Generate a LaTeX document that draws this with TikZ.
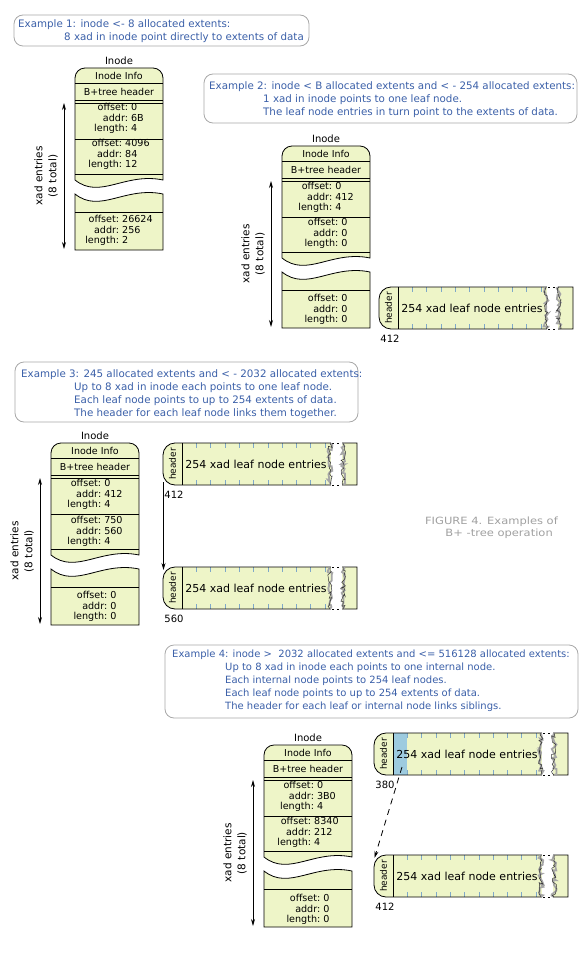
\documentclass[tikz,border=0pt]{standalone}
\usepackage{fontspec}
\usepackage{graphicx}
\setmainfont{DejaVu Sans}
\usetikzlibrary{arrows.meta, decorations.pathmorphing}

\definecolor{nodefill}{HTML}{EEF5C8}
\definecolor{notetext}{HTML}{3A5FA8}
\definecolor{noteframe}{HTML}{A8A8A8}
\definecolor{tickblue}{HTML}{7FA8C8}
\definecolor{cellblue}{HTML}{9DCBDF}
\definecolor{captiongray}{HTML}{A0A0A0}

\tikzset{
  outline/.style={draw=black, line width=0.8pt},
  note/.style={draw=noteframe, line width=0.8pt, rounded corners=9pt},
  notetxt/.style={text=notetext, font=\fontsize{10.3}{13}\selectfont, align=left, anchor=north west, inner sep=0pt},
  smalltxt/.style={font=\fontsize{9.6}{10.2}\selectfont, inner sep=0pt},
  titletxt/.style={font=\fontsize{9.5}{11}\selectfont, inner sep=0pt},
  xadarrow/.style={{Stealth[length=7pt,width=4pt]}-{Stealth[length=7pt,width=4pt]}, line width=0.8pt},
  ptrarrow/.style={-{Stealth[length=7pt,width=4pt]}, line width=0.8pt},
  jagshade/.style={draw=black!35, line width=1.8pt, decorate, decoration={random steps, segment length=2.5pt, amplitude=2.5pt}},
  jag/.style={draw=black!80, line width=0.5pt, decorate, decoration={random steps, segment length=2.5pt, amplitude=2.5pt}},
}

% one xad entry: name, centre, offset, addr, length
\newcommand{\xad}[5]{%
  \node[smalltxt] (#1) at (#2) {\begin{tabular}{@{}r@{\ }l@{}}offset: & #3\\ addr: & #4\\ length: & #5\end{tabular}};}

% inode with broken entry list: name, left, top
\newcommand{\inodebox}[3]{%
\begin{scope}[shift={(#2,#3)}]
  \path[outline, fill=nodefill] (0,112) -- (0,10) .. controls (0,4.5) and (4.5,0) .. (10,0) -- (78,0)
    .. controls (83.5,0) and (88,4.5) .. (88,10) -- (88,112) .. controls (50,104) and (25,132) .. (0,112) -- cycle;
  \path[outline, fill=nodefill] (0,126) .. controls (25,146) and (50,118) .. (88,126) -- (88,182) -- (0,182) -- cycle;
  \draw[line width=0.8pt] (0,15) -- (88,15) (0,32) -- (88,32) (0,35) -- (88,35)
    (0,71) -- (88,71) (0,106) -- (88,106) (0,144) -- (88,144);
  \node[font=\fontsize{10}{12}\selectfont, inner sep=0pt] (#1-label) at (44,-7) {Inode};
  \node[titletxt] (#1-info) at (44,7.5) {Inode Info};
  \node[titletxt] (#1-head) at (44,23.5) {B+tree header};
  \coordinate (#1-atop) at (-11,35);
  \coordinate (#1-abot) at (-11,181);
  \node[rotate=90, align=center, font=\fontsize{10.5}{14}\selectfont, inner sep=0pt] (#1-count) at (-29,108) {xad entries\\(8 total)};
\end{scope}}

% leaf node: [first cell colour], name, left, top, address
\newcommand{\leafnode}[5][nodefill]{%
\begin{scope}[shift={(#3,#4)}]
  \fill[nodefill] (12,0) -- (194,0) -- (194,42) -- (12,42) .. controls (5.4,42) and (0,36.6) .. (0,30)
    -- (0,12) .. controls (0,5.4) and (5.4,0) .. (12,0) -- cycle;
  \fill[#1] (19,0) rectangle (33.3,42);
  \foreach \k in {1,...,10}
    \draw[tickblue, line width=0.6pt] (19+14.3*\k,0) -- ++(0,5) (19+14.3*\k,42) -- ++(0,-5);
  \draw[outline] (12,0) -- (194,0) -- (194,42) -- (12,42) .. controls (5.4,42) and (0,36.6) .. (0,30)
    -- (0,12) .. controls (0,5.4) and (5.4,0) .. (12,0) -- cycle;
  \draw[line width=0.8pt] (19,0) -- (19,42);
  % break in the entry list
  \fill[white] (168,-1) rectangle (179,43);
  \draw[line width=0.8pt, dash pattern=on 2pt off 3pt] (169,0) -- (179,0) (169,42) -- (179,42);
  \draw[jagshade] (167,0) -- (167,42);
  \draw[jag] (167,0) -- (167,42);
  \draw[jagshade] (180,0) -- (180,42);
  \draw[jag] (180,0) -- (180,42);
  \node[rotate=90, font=\fontsize{9}{10}\selectfont, inner sep=0pt] (#2-head) at (9.5,21) {header};
  \node[font=\fontsize{11}{12}\selectfont, inner sep=0pt] (#2-entries) at (93,21) {254 xad leaf node entries};
  \node[font=\fontsize{10}{12}\selectfont, inner sep=0pt] (#2-addr) at (11,52) {#5};
  \coordinate (#2-in) at (0.5,3);
  \coordinate (#2-out) at (0.5,39);
  \coordinate (#2-link) at (28,34);
\end{scope}}

\begin{document}
\begin{tikzpicture}[x=1pt, y=-1pt]
\useasboundingbox (0,0) rectangle (579,960);

% example 1
\draw[note] (14,15) rectangle (309,46);
\node[notetxt] (ex1) at (18,19) {Example 1: inode <- 8 allocated extents:\\
  \hspace*{46pt}8 xad in inode point directly to extents of data};
\inodebox{i1}{75}{68}
\xad{i1-e1}{119,119}{0}{6B}{4}
\xad{i1-e2}{119,155}{4096}{84}{12}
\xad{i1-e8}{119,231}{26624}{256}{2}
\draw[xadarrow] (i1-atop) -- (i1-abot);

% example 2
\draw[note] (204,74) rectangle (577,123);
\node[notetxt] (ex2) at (209,81) {Example 2: inode < B allocated extents and < - 254 allocated extents:\\
  \hspace*{54pt}1 xad in inode points to one leaf node.\\
  \hspace*{54pt}The leaf node entries in turn point to the extents of data.};
\inodebox{i2}{282}{146}
\xad{i2-e1}{326,198}{0}{412}{4}
\xad{i2-e2}{326,234}{0}{0}{0}
\xad{i2-e8}{326,310}{0}{0}{0}
\draw[xadarrow] (i2-atop) -- (i2-abot);
\leafnode{l2}{379}{287}{412}

% example 3
\draw[note] (15,362) rectangle (358,422);
\node[notetxt] (ex3) at (21,369) {Example 3: 245 allocated extents and < - 2032 allocated extents:\\
  \hspace*{53pt}Up to 8 xad in inode each points to one leaf node.\\
  \hspace*{53pt}Each leaf node points to up to 254 extents of data.\\
  \hspace*{53pt}The header for each leaf node links them together.};
\inodebox{i3}{51}{443}
\xad{i3-e1}{95,495}{0}{412}{4}
\xad{i3-e2}{95,532}{750}{560}{4}
\xad{i3-e8}{95,607}{0}{0}{0}
\draw[xadarrow] (i3-atop) -- (i3-abot);
\leafnode{l3a}{163}{443}{412}
\leafnode{l3b}{163}{567}{560}
\draw[ptrarrow] (l3a-out) -- (l3b-in);

\node[font=\fontsize{10}{12}\selectfont, text=captiongray, align=right, anchor=north east, inner sep=0pt] (caption) at (558,517)
  {\scalebox{1.15}[1]{FIGURE 4. Examples of}\\\scalebox{1.15}[1]{B+ -tree operation}\hspace*{5pt}};

% example 4
\draw[note] (165,645) rectangle (578,718);
\node[notetxt, font=\fontsize{10}{13}\selectfont] (ex4) at (172,650) {Example 4: inode >\ \ 2032 allocated extents and <= 516128 allocated extents:\\
  \hspace*{53pt}Up to 8 xad in inode each points to one internal node.\\
  \hspace*{53pt}Each internal node points to 254 leaf nodes.\\
  \hspace*{53pt}Each leaf node points to up to 254 extents of data.\\
  \hspace*{53pt}The header for each leaf or internal node links siblings.};
\inodebox{i4}{264}{745}
\xad{i4-e1}{308,797}{0}{3B0}{4}
\xad{i4-e2}{308,833}{8340}{212}{4}
\xad{i4-e8}{308,910}{0}{0}{0}
\draw[xadarrow] (i4-atop) -- (i4-abot);
\leafnode[cellblue]{l4a}{374}{733}{380}
\leafnode{l4b}{374}{855}{412}
\draw[ptrarrow, dash pattern=on 6pt off 5pt] (l4a-link) -- (l4b-in);
\end{tikzpicture}
\end{document}
